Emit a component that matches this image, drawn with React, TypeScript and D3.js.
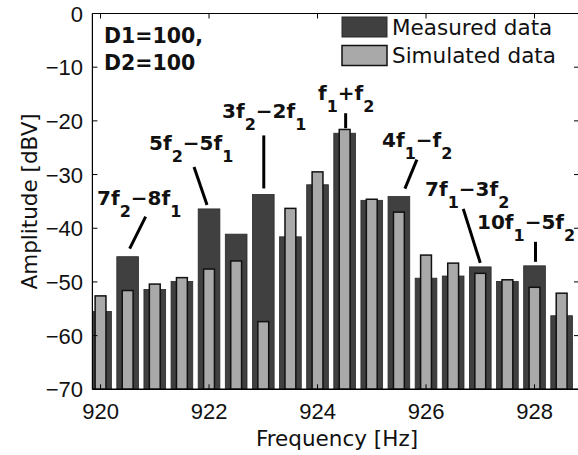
import React from "react";
import * as d3 from "d3";

const freqs = [920, 920.5, 921, 921.5, 922, 922.5, 923, 923.5, 924, 924.5, 925, 925.5, 926, 926.5, 927, 927.5, 928, 928.5];
const measured = [-55.5, -45.3, -51.4, -49.9, -36.4, -41.1, -33.7, -41.6, -31.9, -22.3, -34.8, -34.1, -49.3, -48.9, -47.2, -49.9, -47.0, -56.3];
const simulated = [-52.6, -51.6, -50.4, -49.2, -47.6, -46.1, -57.4, -36.3, -29.5, -21.6, -34.6, -37.0, -45.0, -46.5, -48.4, -49.6, -51.0, -52.1];
const xTicks = [920, 922, 924, 926, 928];
const yTicks = [0, -10, -20, -30, -40, -50, -60, -70];
const legendLabels = ["Measured data", "Simulated data"];

type Part = { t: string; sub?: boolean };
const annotations: { parts: Part[]; freq: number; lx: number; ly: number; from: [number, number]; to: [number, number] }[] = [
  { parts: [{ t: "7f" }, { t: "2", sub: true }, { t: "−8f" }, { t: "1", sub: true }], freq: 920.5, lx: 97, ly: 205, from: [18, -40], to: [2, -8] },
  { parts: [{ t: "5f" }, { t: "2", sub: true }, { t: "−5f" }, { t: "1", sub: true }], freq: 922, lx: 149, ly: 150, from: [-15, -42], to: [-2, -4] },
  { parts: [{ t: "3f" }, { t: "2", sub: true }, { t: "−2f" }, { t: "1", sub: true }], freq: 923, lx: 222, ly: 118, from: [0.5, -59], to: [0.5, -6] },
  { parts: [{ t: "f" }, { t: "1", sub: true }, { t: "+f" }, { t: "2", sub: true }], freq: 924.5, lx: 318, ly: 100, from: [1, -20], to: [1, -5] },
  { parts: [{ t: "4f" }, { t: "1", sub: true }, { t: "−f" }, { t: "2", sub: true }], freq: 925.5, lx: 382, ly: 147, from: [18, -37], to: [6, -8] },
  { parts: [{ t: "7f" }, { t: "1", sub: true }, { t: "−3f" }, { t: "2", sub: true }], freq: 927, lx: 425, ly: 196, from: [-17, -58], to: [0, -4] },
  { parts: [{ t: "10f" }, { t: "1", sub: true }, { t: "−5f" }, { t: "2", sub: true }], freq: 928, lx: 477, ly: 229, from: [1, -24], to: [1, -4] },
];

const W = 578;
const H = 455;
const left = 92.4;
const right = 579;
const top = 13.5;
const bottom = 389.3;

export default function App() {
  const x = d3.scaleLinear().domain([919.85, 928.82]).range([left, right]);
  const y = d3.scaleLinear().domain([-70, 0]).range([bottom, top]);
  const darkW = x(920.4) - x(920);
  const lightW = x(920.2) - x(920);
  const numFont = "'Liberation Sans', Arial, sans-serif";
  const txtFont = "'DejaVu Sans', sans-serif";

  const renderParts = (parts: Part[]) => {
    const out: React.ReactNode[] = [];
    let down = false;
    parts.forEach((p, i) => {
      let dy = 0;
      if (p.sub && !down) { dy = 12; down = true; }
      else if (!p.sub && down) { dy = -12; down = false; }
      out.push(
        <tspan key={i} dy={dy} fontSize={p.sub ? 16 : 20}>{p.t}</tspan>
      );
    });
    return out;
  };

  return (
    <svg width={W} height={H} style={{ position: "absolute", left: 0, top: 0, background: "#fff" }}>
      <defs>
        <clipPath id="plot">
          <rect x={left} y={top} width={right - left} height={bottom - top} />
        </clipPath>
      </defs>
      <rect x={0} y={0} width={W} height={H} fill="#fff" />
      <g clipPath="url(#plot)">
        {freqs.map((f, i) => (
          <rect key={"m" + i} x={x(f) - darkW / 2} y={y(measured[i])} width={darkW} height={bottom - y(measured[i])} fill="#404040" stroke="#2a2a2a" strokeWidth={0.8} />
        ))}
        {freqs.map((f, i) => (
          <rect key={"s" + i} x={x(f) - lightW / 2} y={y(simulated[i])} width={lightW} height={bottom - y(simulated[i])} fill="#a9a9a9" stroke="#111" strokeWidth={1.5} />
        ))}
      </g>
      <line x1={left} x2={left} y1={top} y2={bottom} stroke="#000" strokeWidth={1.2} />
      <line x1={left} x2={right} y1={top} y2={top} stroke="#000" strokeWidth={1.2} />
      <line x1={left} x2={right} y1={bottom} y2={bottom} stroke="#000" strokeWidth={1.6} />
      <line x1={right} x2={right} y1={top} y2={bottom} stroke="#000" strokeWidth={1.2} />
      {xTicks.map((t) => (
        <g key={"xt" + t}>
          <line x1={x(t)} x2={x(t)} y1={bottom} y2={bottom - 5} stroke="#000" strokeWidth={1} />
          <line x1={x(t)} x2={x(t)} y1={top} y2={top + 5} stroke="#000" strokeWidth={1} />
          <text x={x(t)} y={419} textAnchor="middle" fontFamily={numFont} fontSize={22} fill="#111">{t}</text>
        </g>
      ))}
      {yTicks.map((t) => (
        <g key={"yt" + t}>
          <line x1={left} x2={left + 5} y1={y(t)} y2={y(t)} stroke="#000" strokeWidth={1} />
          <line x1={right - 5} x2={right} y1={y(t)} y2={y(t)} stroke="#000" strokeWidth={1} />
          <text x={83} y={y(t) + 8} textAnchor="end" fontFamily={numFont} fontSize={22} fill="#111">{t === 0 ? "0" : "−" + Math.abs(t)}</text>
        </g>
      ))}
      <text x={337} y={446} textAnchor="middle" fontFamily={txtFont} fontSize={21.5} fill="#111">Frequency [Hz]</text>
      <text transform={`translate(37,${(top + bottom) / 2}) rotate(-90)`} textAnchor="middle" fontFamily={txtFont} fontSize={21.5} fill="#111">Amplitude [dBV]</text>

      <rect x={342} y={17} width={45} height={20} fill="#404040" stroke="#2a2a2a" strokeWidth={1} />
      <rect x={342} y={45.5} width={45} height={20} fill="#a9a9a9" stroke="#111" strokeWidth={1.5} />
      <text x={392} y={35} fontFamily={txtFont} fontSize={21.5} fill="#111">{legendLabels[0]}</text>
      <text x={392} y={63} fontFamily={txtFont} fontSize={21.5} fill="#111">{legendLabels[1]}</text>

      <text x={104} y={43} fontFamily={txtFont} fontWeight="bold" fontSize={20.5} fill="#111">D1=100,</text>
      <text x={104} y={70} fontFamily={txtFont} fontWeight="bold" fontSize={20.5} fill="#111">D2=100</text>

      {annotations.map((a, i) => {
        const i0 = freqs.indexOf(a.freq);
        const bx = x(a.freq);
        const by = y(measured[i0]);
        return (
          <g key={"a" + i}>
            <text x={a.lx} y={a.ly} fontFamily={txtFont} fontWeight="bold" fontSize={20} fill="#111">{renderParts(a.parts)}</text>
            <line x1={bx + a.from[0]} y1={by + a.from[1]} x2={bx + a.to[0]} y2={by + a.to[1]} stroke="#000" strokeWidth={3} />
          </g>
        );
      })}
    </svg>
  );
}
